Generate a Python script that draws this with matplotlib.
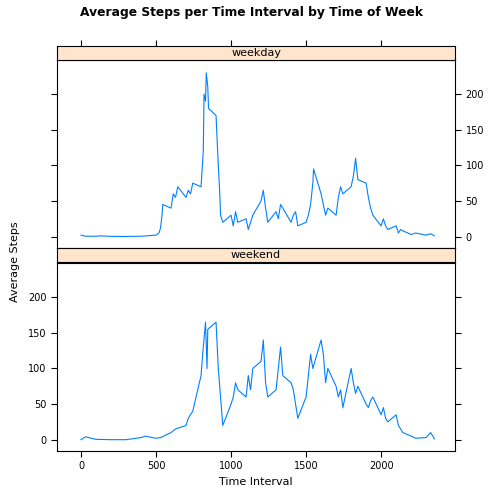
import matplotlib
matplotlib.use('Agg')
import matplotlib.pyplot as plt

wd_x = [0, 30, 100, 130, 200, 300, 400, 500, 520, 530, 540, 545, 600, 615, 630, 645, 700, 715, 730, 745, 800,
        815, 820, 830, 835, 845, 850, 900, 915, 925, 930, 945, 1000, 1015, 1030, 1045, 1100, 1115, 1130, 1145,
        1200, 1215, 1230, 1245, 1300, 1315, 1330, 1345, 1400, 1415, 1430, 1445, 1500, 1515, 1530, 1545, 1550,
        1600, 1615, 1630, 1645, 1700, 1715, 1730, 1745, 1800, 1815, 1830, 1845, 1900, 1915, 1930, 1945, 2000,
        2015, 2030, 2045, 2100, 2115, 2130, 2145, 2200, 2230, 2300, 2330, 2355]
wd_y = [2, 0.5, 0.5, 1, 0.3, 0.2, 0.5, 2, 5, 12, 30, 45, 40, 60, 55, 70, 55, 65, 60, 75, 70,
        120, 200, 190, 230, 210, 180, 170, 100, 60, 30, 20, 30, 15, 35, 20, 25, 10, 20, 30,
        50, 65, 40, 20, 35, 25, 45, 40, 20, 30, 35, 15, 20, 30, 45, 75, 95,
        60, 45, 30, 40, 30, 55, 70, 60, 70, 85, 110, 80, 75, 55, 40, 30, 15,
        25, 15, 10, 15, 5, 10, 8, 3, 5, 2, 4, 1]

we_x = [0, 30, 100, 200, 300, 400, 430, 500, 530, 600, 630, 700, 715, 730, 745, 800, 815, 830, 840, 845, 900,
        915, 930, 945, 1000, 1015, 1030, 1045, 1100, 1115, 1130, 1145, 1200, 1215, 1230, 1245, 1300, 1315,
        1330, 1345, 1400, 1415, 1430, 1445, 1500, 1515, 1530, 1545, 1600, 1615, 1630, 1645, 1700, 1715, 1730,
        1745, 1800, 1815, 1830, 1845, 1900, 1915, 1930, 1945, 2000, 2015, 2030, 2045, 2100, 2115, 2130, 2145,
        2200, 2230, 2300, 2330, 2345, 2355]
we_y = [0, 4, 0.5, 0, 0, 3, 5, 2, 3, 10, 15, 20, 30, 35, 40, 90, 130, 165, 100, 155, 165,
        100, 60, 20, 50, 60, 80, 70, 60, 90, 70, 100, 110, 140, 80, 60, 70, 100,
        130, 90, 80, 70, 50, 30, 60, 90, 120, 100, 140, 120, 80, 100, 75, 60, 70,
        45, 100, 80, 65, 75, 50, 45, 55, 60, 35, 45, 30, 25, 35, 20, 15, 10,
        5, 2, 3, 10, 5, 1]

panels = [('weekday', wd_x, wd_y, 0.508, 0.881, 'right'),
          ('weekend', we_x, we_y, 0.105, 0.480, 'left')]

fig = plt.figure(figsize=(5.04, 5.04), dpi=100)
L, W = 0.113, 0.79
xlim = (-160, 2493)
xt = [0, 500, 1000, 1500, 2000]
yt = [0, 50, 100, 150, 200]

for name, x, y, yb, sb, side in panels:
    ax = fig.add_axes([L, yb, W, 0.373])
    ax.plot(x, y, color='#0080FF', lw=0.8)
    ax.set_xlim(xlim)
    ax.set_ylim(-16, 248)
    ax.set_yticks(yt)
    ax.tick_params(axis='y', left=True, right=True, labelleft=(side == 'left'),
                   labelright=(side == 'right'), labelsize=7, direction='out', length=4)
    ax.set_xticks(xt)
    if name == 'weekend':
        ax.tick_params(axis='x', labelsize=7, direction='out', length=4)
        ax.set_xlabel('Time Interval', fontsize=8)
    else:
        ax.tick_params(axis='x', bottom=False, labelbottom=False)
    st = fig.add_axes([L, sb, W, 0.0278])
    st.set_facecolor('#FFE5CC')
    st.set_xlim(xlim)
    st.set_yticks([])
    if name == 'weekday':
        st.set_xticks(xt)
        st.tick_params(axis='x', bottom=False, labelbottom=False, top=True, direction='out', length=4)
    else:
        st.set_xticks([])
    st.text(0.5, 0.5, name, transform=st.transAxes, ha='center', va='center', fontsize=8)

fig.text(0.03, 0.48, 'Average Steps', rotation=90, ha='center', va='center', fontsize=8)
fig.text(0.5, 0.975, 'Average Steps per Time Interval by Time of Week', ha='center', va='center',
         fontsize=8.8, fontweight='bold')
fig.savefig('out.png', dpi=100)
